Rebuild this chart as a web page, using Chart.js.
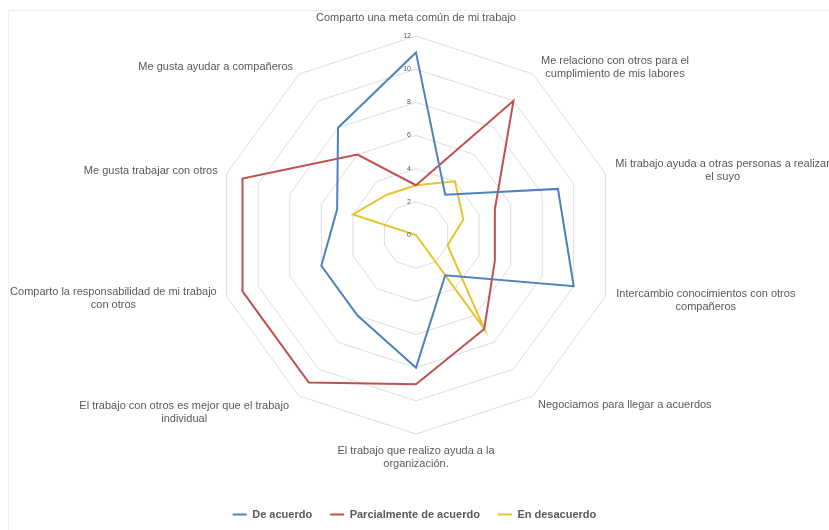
<!DOCTYPE html>
<html>
<head>
<meta charset="utf-8">
<script src="https://cdn.jsdelivr.net/npm/chart.js@4.4.1/dist/chart.umd.min.js"></script>
<style>
  html, body { margin: 0; padding: 0; background: #ffffff; }
  #wrap { position: relative; width: 829px; height: 530px; }
  #frame {
    position: absolute; left: 8px; top: 10px; right: 0; bottom: 0;
    border-left: 1px solid #efefef; border-top: 1px solid #efefef;
    pointer-events: none;
  }
</style>
</head>
<body>
<div id="wrap">
  <canvas id="radarChart" width="829" height="530"></canvas>
  <div id="frame"></div>
</div>
<script>
"use strict";

const categories = [
  "Comparto una meta común de mi trabajo",
  ["Me relaciono con otros para el", "cumplimiento de mis labores"],
  ["Mi trabajo ayuda a otras personas a realizar", "el suyo"],
  ["Intercambio conocimientos con otros", "compañeros"],
  "Negociamos para llegar a acuerdos",
  ["El trabajo que realizo ayuda a la", "organización."],
  ["El trabajo con otros es mejor que el trabajo", "individual"],
  ["Comparto la responsabilidad de mi trabajo", "con otros"],
  "Me gusta trabajar con otros",
  "Me gusta ayudar a compañeros",
];

const deAcuerdo = [11, 3, 9, 10, 3, 8, 6, 6, 5, 8];
const parcialmente = [3, 10, 5, 5, 7, 9, 11, 11, 11, 6];
const enDesacuerdo = [3, 4, 3, 2, 7, 0, 0, 0, 4, 3];

const seriesNames = ["De acuerdo", "Parcialmente de acuerdo", "En desacuerdo"];
const seriesColors = ["#4f81bd", "#c0504d", "#e6c42e"];

const textColor = "#595959";
const gridColor = "#dedede";
const fontFamily = "'Liberation Sans', Arial, sans-serif";

// radar placement (Excel-like), and label spacing from the outer ring
const radarCenter = { x: 416, y: 235 };
const radarRadius = 199;
const labelGap = [0, 8, 10, 11, 5, 0, 10, 10, 9, 6];
const labelShiftY = [-18, -7, -3, 4, 9, 23, 16, 2, -3, -7];
const labelLineHeight = 13;

// draws the category labels centered line by line, plus the tick numbers
const outerLabels = {
  id: "outerLabels",
  afterDraw(chart) {
    const scale = chart.scales.r;
    const c = chart.ctx;
    const n = categories.length;
    c.save();
    c.fillStyle = textColor;
    c.textBaseline = "middle";
    c.textAlign = "center";
    c.font = `11px ${fontFamily}`;

    categories.forEach((label, i) => {
      const lines = Array.isArray(label) ? label : [label];
      const p = scale.getPointPosition(i, scale.drawingArea);
      const w = Math.max(...lines.map((l) => c.measureText(l).width));
      const h = lines.length * labelLineHeight;
      const angle = (i * 360) / n;
      let x = p.x;
      if (angle > 0 && angle < 180) x = p.x + labelGap[i] + w / 2;
      else if (angle > 180) x = p.x - labelGap[i] - w / 2;
      const y = p.y + labelShiftY[i] - h / 2;
      lines.forEach((l, k) => {
        c.fillText(l, x, y + labelLineHeight * (k + 0.5));
      });
    });

    c.font = `7px ${fontFamily}`;
    c.textAlign = "right";
    scale.ticks.forEach((t) => {
      const y = scale.yCenter - scale.getDistanceFromCenterForValue(t.value);
      c.fillText(t.label, scale.xCenter - 5, y);
    });
    c.restore();
  },
};

const ctx = document.getElementById("radarChart").getContext("2d");

new Chart(ctx, {
  type: "radar",
  data: {
    labels: categories,
    datasets: [deAcuerdo, parcialmente, enDesacuerdo].map((values, i) => ({
      label: seriesNames[i],
      data: values,
      borderColor: seriesColors[i],
      backgroundColor: seriesColors[i],
      borderWidth: 2,
      fill: false,
      pointRadius: 0,
      pointHoverRadius: 0,
      tension: 0,
    })),
  },
  plugins: [outerLabels],
  options: {
    responsive: false,
    animation: false,
    layout: { padding: 0 },
    plugins: {
      legend: {
        position: "bottom",
        labels: {
          color: textColor,
          font: { family: fontFamily, size: 11, weight: "bold" },
          usePointStyle: true,
          pointStyle: "line",
          pointStyleWidth: 14,
          boxHeight: 8,
          padding: 18,
        },
      },
      tooltip: { enabled: false },
    },
    scales: {
      r: {
        min: 0,
        max: 12,
        ticks: { stepSize: 2, display: false },
        grid: { color: gridColor, lineWidth: 1 },
        angleLines: { display: false },
        pointLabels: { display: false },
        afterFit: (scale) => {
          scale.xCenter = radarCenter.x;
          scale.yCenter = radarCenter.y;
          scale.drawingArea = radarRadius;
        },
      },
    },
  },
});
</script>
</body>
</html>
